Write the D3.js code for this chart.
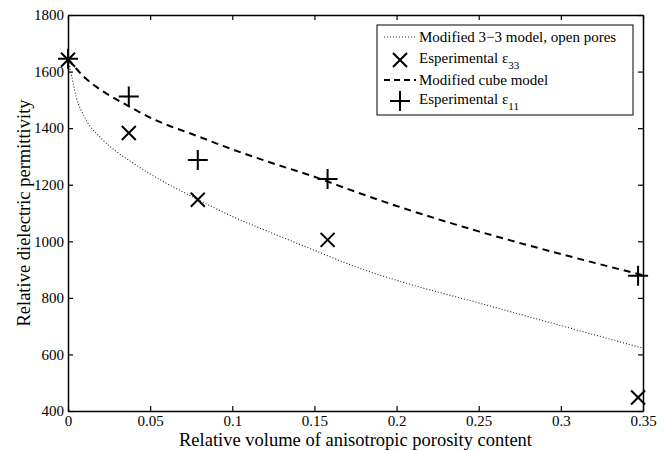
<!DOCTYPE html>
<head lang="en">
<meta charset="utf-8">
<title>Relative dielectric permittivity vs porosity</title>
<style>
body { margin:0; background:#fff; }
</style>
<script src="https://cdnjs.cloudflare.com/ajax/libs/d3/7.8.5/d3.min.js"></script>
</head>
<body>
<div id="chart"></div>
<script>
// Modified 3-3 model, open pores (dotted)
var model33X = [0, 0.002, 0.005, 0.01, 0.02, 0.03, 0.04, 0.05, 0.06, 0.08, 0.1, 0.125, 0.15, 0.175, 0.2, 0.25, 0.3, 0.35];
var model33Y = [1640, 1590, 1510, 1440, 1365, 1315, 1275, 1238, 1205, 1145, 1088, 1027, 968, 910, 862, 782, 702, 622];
// Modified cube model (dashed)
var cubeX = [0, 0.01, 0.02, 0.03, 0.04, 0.05, 0.06, 0.075, 0.1, 0.125, 0.15, 0.175, 0.2, 0.25, 0.3, 0.35];
var cubeY = [1645, 1580, 1535, 1500, 1468, 1437, 1412, 1380, 1325, 1275, 1228, 1175, 1125, 1035, 955, 880];
// Experimental points
var expX = [0, 0.037, 0.079, 0.158, 0.347];
var eps33 = [1642, 1383, 1147, 1005, 448];
var eps11 = [1645, 1512, 1287, 1220, 878];

var xTicks = [0, 0.05, 0.1, 0.15, 0.2, 0.25, 0.3, 0.35];
var yTicks = [400, 600, 800, 1000, 1200, 1400, 1600, 1800];

var FONT = "Liberation Serif";
var width = 664, height = 450;
var margin = {left: 68, right: 21, top: 15, bottom: 39};

var svg = d3.select("#chart").append("svg")
    .attr("width", width)
    .attr("height", height)
    .attr("font-family", FONT);

var x = d3.scaleLinear().domain([0, 0.35]).range([margin.left, width - margin.right]);
var y = d3.scaleLinear().domain([400, 1800]).range([height - margin.bottom, margin.top]);

// axes, MATLAB style with inward ticks on every side
var tickFmt = function(d) { return d; };
svg.append("g")
    .attr("transform", "translate(0," + y(400) + ")")
    .call(d3.axisBottom(x).tickValues(xTicks).tickSizeInner(-5).tickSizeOuter(0).tickPadding(4).tickFormat(tickFmt));
svg.append("g")
    .attr("transform", "translate(0," + y(1800) + ")")
    .call(d3.axisTop(x).tickValues(xTicks).tickSizeInner(-5).tickSizeOuter(0).tickFormat(""));
svg.append("g")
    .attr("transform", "translate(" + x(0) + ",0)")
    .call(d3.axisLeft(y).tickValues(yTicks).tickSizeInner(-5).tickSizeOuter(0).tickPadding(4).tickFormat(tickFmt));
svg.append("g")
    .attr("transform", "translate(" + x(0.35) + ",0)")
    .call(d3.axisRight(y).tickValues(yTicks).tickSizeInner(-5).tickSizeOuter(0).tickFormat(""));

svg.selectAll("g").attr("font-family", FONT);
svg.selectAll(".domain").attr("stroke", "#000").attr("stroke-width", 1.5);
svg.selectAll(".tick line").attr("stroke", "#000").attr("stroke-width", 1.2);
svg.selectAll(".tick text").attr("fill", "#000")
    .attr("font-family", FONT).attr("font-size", 15);

// axis titles
svg.append("text")
    .attr("x", (x(0) + x(0.35)) / 2)
    .attr("y", 446)
    .attr("text-anchor", "middle")
    .attr("font-family", FONT)
    .attr("font-size", 18.5)
    .text("Relative volume of anisotropic porosity content");
svg.append("text")
    .attr("transform", "translate(30," + (y(1100)) + ") rotate(-90)")
    .attr("text-anchor", "middle")
    .attr("font-family", FONT)
    .attr("font-size", 18.5)
    .text("Relative dielectric permittivity");

// model curves
var line = d3.line().x(function(d) { return x(d[0]); }).y(function(d) { return y(d[1]); }).curve(d3.curveMonotoneX);
svg.append("path")
    .datum(d3.zip(model33X, model33Y))
    .attr("d", line)
    .attr("fill", "none")
    .attr("stroke", "#222")
    .attr("stroke-width", 1.1)
    .attr("stroke-dasharray", "1,2");
svg.append("path")
    .datum(d3.zip(cubeX, cubeY))
    .attr("d", line)
    .attr("fill", "none")
    .attr("stroke", "#000")
    .attr("stroke-width", 2)
    .attr("stroke-dasharray", "7,5");

// markers
function crossMark(g, cx, cy, r) {
    g.append("path")
        .attr("d", "M" + (cx - r) + "," + (cy - r) + "L" + (cx + r) + "," + (cy + r) +
                   "M" + (cx - r) + "," + (cy + r) + "L" + (cx + r) + "," + (cy - r))
        .attr("stroke", "#000").attr("stroke-width", 2).attr("fill", "none");
}
function plusMark(g, cx, cy, r) {
    g.append("path")
        .attr("d", "M" + (cx - r) + "," + cy + "L" + (cx + r) + "," + cy +
                   "M" + cx + "," + (cy - r) + "L" + cx + "," + (cy + r))
        .attr("stroke", "#000").attr("stroke-width", 2).attr("fill", "none");
}
var marks = svg.append("g");
expX.forEach(function(v, i) {
    crossMark(marks, x(v), y(eps33[i]), 7);
    plusMark(marks, x(v), y(eps11[i]), 10);
});

// legend
var lg = svg.append("g");
lg.append("rect")
    .attr("x", 377).attr("y", 25).attr("width", 256).attr("height", 90)
    .attr("fill", "#fff").attr("stroke", "#000").attr("stroke-width", 1);
var rows = [37, 60, 80, 101];
lg.append("line").attr("x1", 384).attr("x2", 416).attr("y1", rows[0]).attr("y2", rows[0])
    .attr("stroke", "#222").attr("stroke-width", 1.1).attr("stroke-dasharray", "1,2");
crossMark(lg, 400, rows[1], 7);
lg.append("line").attr("x1", 384).attr("x2", 416).attr("y1", rows[2]).attr("y2", rows[2])
    .attr("stroke", "#000").attr("stroke-width", 2).attr("stroke-dasharray", "6,4");
plusMark(lg, 400, rows[3], 10);

lg.append("text").attr("x", 419).attr("y", rows[0] + 5)
    .attr("font-family", FONT).attr("font-size", 15)
    .text("Modified 3\u22123 model, open pores");
lg.append("text").attr("x", 419).attr("y", rows[2] + 5)
    .attr("font-family", FONT).attr("font-size", 15)
    .text("Modified cube model");
[["33", rows[1]], ["11", rows[3]]].forEach(function(r) {
    var t = lg.append("text").attr("x", 419).attr("y", r[1] + 3)
        .attr("font-family", FONT).attr("font-size", 15);
    t.append("tspan").text("Esperimental");
    t.append("tspan").attr("x", 502).text("\u03b5");
    t.append("tspan").attr("dy", 6).attr("font-size", 11).text(r[0]);
});
</script>
</body>
</html>
